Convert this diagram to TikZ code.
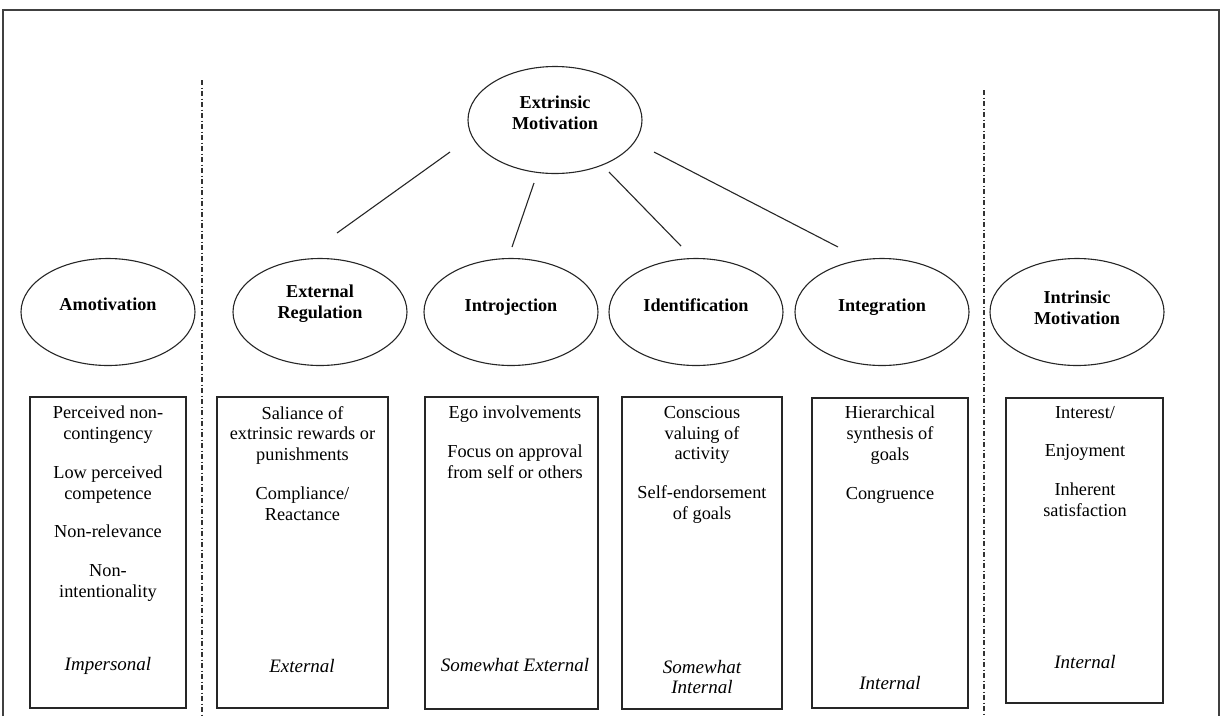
\documentclass[tikz,border=0pt]{standalone}
\usepackage{fontspec}
\setmainfont{Liberation Serif}
\usetikzlibrary{shapes.geometric}
\begin{document}
\begin{tikzpicture}[x=1pt,y=-1pt,
  oval/.style={draw=black!85, line width=1.1pt, ellipse, minimum width=174pt, minimum height=107pt, inner sep=0pt},
  ovallabel/.style={font=\fontsize{18.2}{21}\selectfont\bfseries, align=center, inner sep=0pt},
  panel/.style={draw=black!85, line width=1.4pt, inner sep=0pt},
  paneltext/.style={font=\fontsize{18.3}{20.8}\selectfont, align=center, anchor=north, inner sep=0pt},
  locus/.style={font=\fontsize{19}{20}\selectfont\itshape, align=center, inner sep=0pt},
  link/.style={draw=black!85, line width=1.1pt},
  divider/.style={draw=black!80, line width=1.4pt, dash pattern=on 5pt off 2.5pt on 1pt off 2.5pt},
  frame/.style={draw=black!75, line width=1.5pt},
]
\useasboundingbox (0,0) rectangle (1221,716);

% outer frame (open at the bottom)
\coordinate (fbl) at (3,716);
\coordinate (ftl) at (3,10);
\coordinate (ftr) at (1219,10);
\coordinate (fbr) at (1219,716);
\draw[frame] (fbl) -- (ftl) -- (ftr) -- (fbr);

% dash-dot dividers
\coordinate (dLt) at (202,80);
\coordinate (dLb) at (202,716);
\coordinate (dRt) at (984,90);
\coordinate (dRb) at (984,716);
\draw[divider] (dLt) -- (dLb);
\draw[divider] (dRt) -- (dRb);

% top oval
\node[oval] (extr) at (555,120) {};
\node[ovallabel] (extrT) at (555,113) {Extrinsic\\Motivation};

% row of ovals
\node[oval] (amot) at (108,312) {};
\node[oval] (extreg) at (320,312) {};
\node[oval] (intro) at (511,312) {};
\node[oval] (ident) at (696,312) {};
\node[oval] (integ) at (882,312) {};
\node[oval] (intrin) at (1077,312) {};

\node[ovallabel] (amotT) at (108,304) {Amotivation};
\node[ovallabel] (extregT) at (320,304) {External\\Regulation};
\node[ovallabel] (introT) at (511,307) {Introjection};
\node[ovallabel] (identT) at (696,305) {Identification};
\node[ovallabel] (integT) at (882,307) {Integration};
\node[ovallabel] (intrinT) at (1077,308) {Intrinsic\\Motivation};

% connectors from the top oval
\coordinate (l1a) at (450,152); \coordinate (l1b) at (337,233);
\coordinate (l2a) at (534,183); \coordinate (l2b) at (512,247);
\coordinate (l3a) at (609,172); \coordinate (l3b) at (681,246);
\coordinate (l4a) at (654,152); \coordinate (l4b) at (838,247);
\draw[link] (l1a) -- (l1b);
\draw[link] (l2a) -- (l2b);
\draw[link] (l3a) -- (l3b);
\draw[link] (l4a) -- (l4b);

% description panels
\node[panel, minimum width=156pt, minimum height=311pt] (b1) at (108,552.5) {};
\node[panel, minimum width=171pt, minimum height=311pt] (b2) at (302.5,552.5) {};
\node[panel, minimum width=173pt, minimum height=312pt] (b3) at (511.5,553) {};
\node[panel, minimum width=160pt, minimum height=312pt] (b4) at (702,553) {};
\node[panel, minimum width=156pt, minimum height=310pt] (b5) at (890,553) {};
\node[panel, minimum width=157pt, minimum height=305pt] (b6) at (1084.5,550.5) {};

\node[paneltext] (b1t) at (108,406) {Perceived non-\\contingency\\[17.8pt]Low perceived\\competence\\[17.8pt]Non-relevance\\[17.8pt]Non-\\intentionality};
\node[paneltext] (b2t) at (302.5,406) {Saliance of\\extrinsic rewards or\\punishments\\[17.8pt]Compliance/\\Reactance};
\node[paneltext] (b3t) at (515,406) {Ego involvements\\[17.8pt]Focus on approval\\from self or others};
\node[paneltext] (b4t) at (702,406) {Conscious\\valuing of\\activity\\[17.8pt]Self-endorsement\\of goals};
\node[paneltext] (b5t) at (890,406) {Hierarchical\\synthesis of\\goals\\[17.8pt]Congruence};
\node[paneltext] (b6t) at (1085,406) {Interest/\\[17.8pt]Enjoyment\\[17.8pt]Inherent\\satisfaction};

\node[locus] (b1l) at (108,666) {Impersonal};
\node[locus] (b2l) at (302,666) {External};
\node[locus] (b3l) at (515,665) {Somewhat External};
\node[locus] (b4l) at (702,677) {Somewhat\\Internal};
\node[locus] (b5l) at (890,683) {Internal};
\node[locus] (b6l) at (1085,662) {Internal};
\end{tikzpicture}
\end{document}
